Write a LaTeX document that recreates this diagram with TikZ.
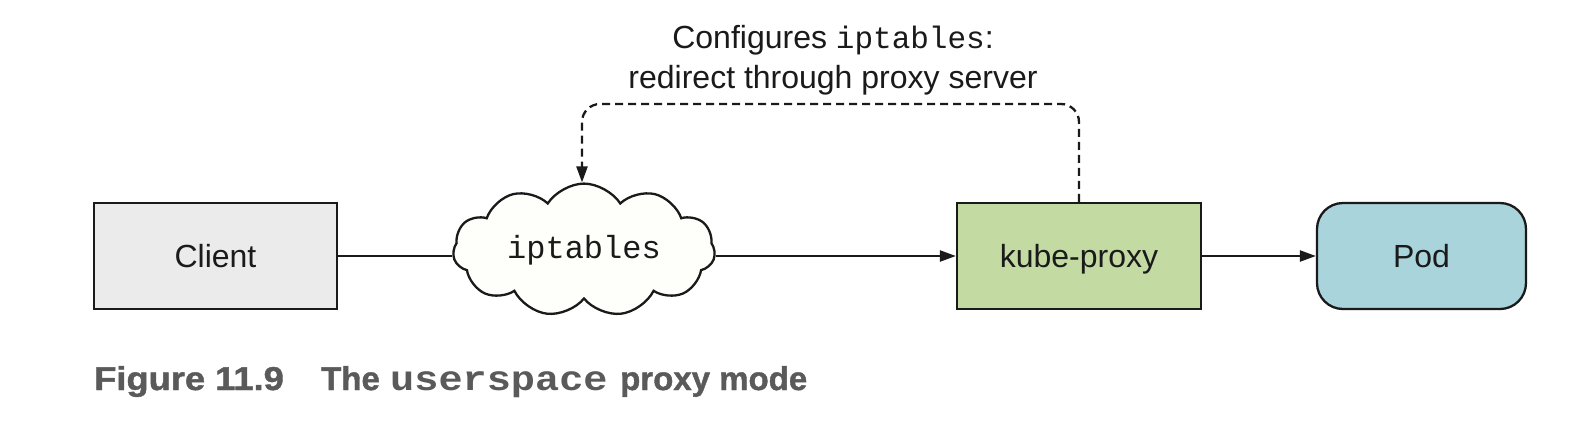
\documentclass[tikz,border=0pt]{standalone}
\usepackage{fontspec}
\setmainfont{Liberation Sans}
\setmonofont{Liberation Mono}
\newfontfamily\capfont[FakeBold=1.2]{Liberation Sans Bold}
\newfontfamily\capmono{Liberation Mono Bold}
\usetikzlibrary{shapes.symbols,arrows.meta}
\definecolor{clientfill}{HTML}{EBEBEB}
\definecolor{kpfill}{HTML}{C3DBA3}
\definecolor{podfill}{HTML}{AAD4DC}
\definecolor{cloudfill}{HTML}{FEFEFB}
\definecolor{capgray}{HTML}{5A5A5A}
\definecolor{ink}{HTML}{1A1A1A}
\tikzset{
  boxbase/.style={draw=ink, line width=2.3pt, minimum height=106pt, inner sep=0pt,
    font=\fontsize{32}{38}\selectfont, text height=23pt, text depth=0pt, text=ink},
  clientbox/.style={boxbase, fill=clientfill, minimum width=243pt},
  kpbox/.style={boxbase, fill=kpfill, minimum width=244pt},
  podbox/.style={boxbase, fill=podfill, minimum width=209pt, rounded corners=26pt},
  cloudnode/.style={cloud, cloud puffs=11, cloud puff arc=115, aspect=2.1, draw=ink, line width=2.3pt,
    fill=cloudfill, minimum width=262pt, minimum height=130pt, inner sep=0pt,
    font=\fontsize{32}{38}\ttfamily, text=ink},
  conn/.style={draw=ink, line width=2.3pt},
  arr/.style={conn, -{Triangle[length=16pt,width=11pt]}},
  dasharr/.style={arr, dash pattern=on 8pt off 5pt, rounded corners=18pt},
  captxt/.style={anchor=base west, inner sep=0pt, text=capgray, font=\fontsize{33}{38}\capfont},
}
\begin{document}
\begin{tikzpicture}[x=1pt,y=-1pt]
\useasboundingbox[fill=white] (0,0) rectangle (1582,432);
\node[clientbox] (client) at (215.5,256) {Client};
\node[cloudnode] (ipt) at (584,250) {iptables};
\node[kpbox] (kp) at (1079,256) {kube-proxy};
\node[podbox] (pod) at (1421.5,256) {Pod};
\node[anchor=base, inner sep=0pt, align=center, text=ink,
  font=\fontsize{32}{40}\selectfont] (note) at (833,88)
  {Configures {\fontsize{31}{40}\ttfamily iptables}:\\redirect through proxy server};
\coordinate (dtop) at (0,104);
\draw[conn] (client.east) -- (ipt.west |- client.east);
\draw[arr] (ipt.east |- client.east) -- (kp.west);
\draw[arr] (kp.east) -- (pod.west);
\draw[dasharr] (kp.north) |- ([xshift=-2pt]ipt.north |- dtop) -- ([xshift=-2pt]ipt.north);
\node[captxt] (capa) at (94,390) {\scalebox{1.1}[1]{Figure 11.9}};
\node[captxt] (capb) at (321,390) {The};
\node[captxt, font=\fontsize{35}{40}\capmono] (capc) at (390,390) {\scalebox{1.15}[1]{userspace}};
\node[captxt] (capd) at (620,390) {proxy mode};
\end{tikzpicture}
\end{document}
